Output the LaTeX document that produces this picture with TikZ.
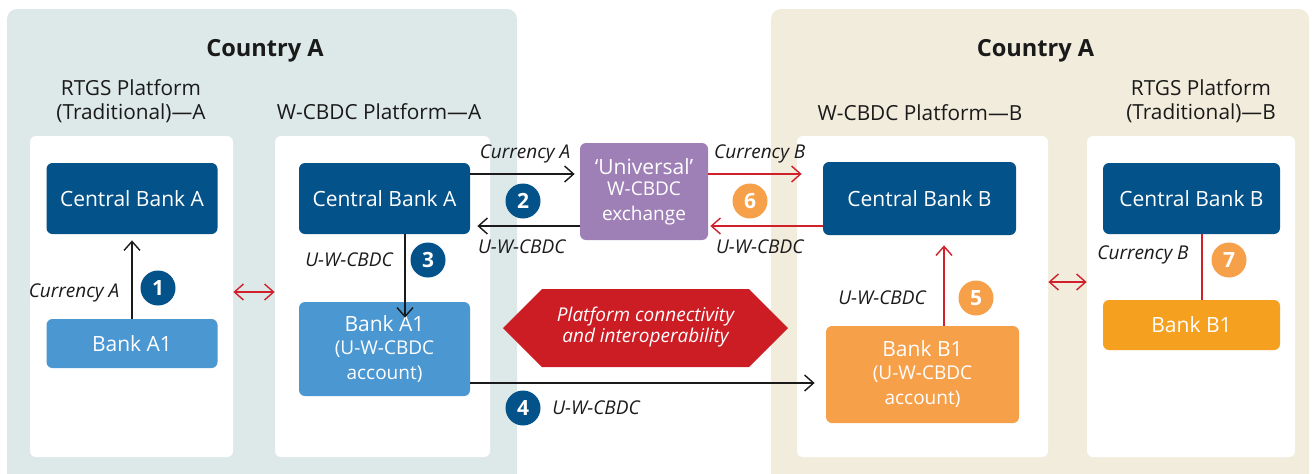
\documentclass[tikz,border=0pt]{standalone}
\usepackage{fontspec}
\setmainfont{Open Sans}
\usetikzlibrary{positioning, arrows.meta}
\definecolor{ctyA}{HTML}{DDE9E8}
\definecolor{ctyB}{HTML}{F2ECDD}
\definecolor{cbblue}{HTML}{03528A}
\definecolor{bkblue}{HTML}{4A97D2}
\definecolor{exviolet}{HTML}{9E80B6}
\definecolor{linkred}{HTML}{CC1C24}
\definecolor{flowred}{HTML}{D0202A}
\definecolor{bkorange}{HTML}{F7A04A}
\definecolor{rtorange}{HTML}{F5A01F}
\definecolor{txt}{HTML}{1A1A1A}
\tikzset{
	>={Straight Barb[length=4.5pt,width=8pt]},
	platbox/.style={fill=white, rounded corners=3pt},
	bank/.style={rounded corners=3pt, text=white, align=center, inner sep=0pt, font=\fontsize{10.5}{12.5}\selectfont},
	central/.style={bank, fill=cbblue, minimum height=35.5pt},
	num/.style={circle, text=white, minimum size=17.5pt, inner sep=0pt, font=\bfseries\fontsize{10.5}{12}\selectfont},
	lbl/.style={text=txt, font=\itshape\fontsize{9.5}{11}\selectfont},
	plat/.style={text=txt, align=center, font=\fontsize{10.4}{12.2}\selectfont},
	flow/.style={->, line width=0.7pt, draw=txt},
	redflow/.style={->, line width=0.7pt, draw=flowred},
}
\newcommand{\subline}{\fontsize{9.5}{10.5}\selectfont}

\begin{document}
\begin{tikzpicture}[x=0.5pt, y=-0.5pt]
		\useasboundingbox (0,0) rectangle (1312,473);
		\fill[ctyA, rounded corners=5pt] (7,9) rectangle (517,500);
		\fill[ctyB, rounded corners=5pt] (771,9) rectangle (1309,500);
		\node[text=txt, font=\bfseries\fontsize{11.8}{14}\selectfont] (titleA) at (265,51) {Country A};
		\node[text=txt, font=\bfseries\fontsize{11.8}{14}\selectfont] (titleB) at (1035.5,51) {Country A};
		% platforms
		\node[platbox, minimum width=101.5pt, minimum height=160.5pt] (rtgsA) at (131.5,296.5) {};
		\node[platbox, minimum width=107.5pt, minimum height=160.5pt] (wcbdcA) at (382.5,296.5) {};
		\node[platbox, minimum width=125.5pt, minimum height=160.5pt] (wcbdcB) at (922.5,296.5) {};
		\node[platbox, minimum width=104pt, minimum height=160.5pt] (rtgsB) at (1191,296.5) {};
		\node[plat] at (131,101) {RTGS Platform\\(Traditional)—A};
		\node[plat] at (379,112) {W-CBDC Platform—A};
		\node[plat] at (920,113) {W-CBDC Platform—B};
		\node[plat] at (1201,101) {RTGS Platform\\(Traditional)—B};
		% banks
		\node[central, minimum width=85.5pt] (cbA) at (132,198.5) {Central Bank A};
		\node[bank, fill=bkblue, minimum width=85.5pt, minimum height=24.5pt] (bankA) at (132,343.5) {Bank A1};
		\node[central, minimum width=85.5pt] (cbAw) at (384.5,198.5) {Central Bank A};
		\node[bank, fill=bkblue, minimum width=85.5pt, minimum height=47pt] (bankAw) at (384.5,349) {Bank A1\\[-1pt]\subline (U-W-CBDC\\\subline account)};
		\node[bank, fill=exviolet, minimum width=64pt, minimum height=48.5pt] (uni) at (644,191.5) {‘Universal’\\[-2pt]\subline W-CBDC\\\subline exchange};
		\node[central, minimum width=96.5pt, minimum height=36.5pt] (cbBw) at (919.5,198.5) {Central Bank B};
		\node[bank, fill=bkorange, minimum width=96.5pt, minimum height=48.5pt] (bankBw) at (922.5,374.5) {Bank B1\\[-1pt]\subline (U-W-CBDC\\\subline account)};
		\node[central, minimum width=88.5pt] (cbB) at (1191.5,198.5) {Central Bank B};
		\node[bank, fill=rtorange, minimum width=88.5pt, minimum height=25pt] (bankB) at (1191.5,325) {Bank B1};
		% connectivity
		\fill[linkred] (503,328) -- (542,289) -- (749,289) -- (788,328) -- (749,367) -- (542,367) -- cycle;
		\node[text=white, align=center, font=\itshape\fontsize{9.5}{10.5}\selectfont] (link) at (645.5,327) {Platform connectivity\\and interoperability};
		\draw[<->, line width=0.7pt, draw=flowred] ([yshift=2.25pt]rtgsA.east) -- ([yshift=2.25pt]wcbdcA.west);
		\draw[<->, line width=0.7pt, draw=flowred] ([yshift=7.25pt]wcbdcB.east) -- ([yshift=7.25pt]rtgsB.west);
		% flows
		\coordinate (s2a) at ([yshift=12.25pt]cbAw.east);
		\coordinate (s2b) at ([yshift=-17.25pt]uni.west);
		\coordinate (s3) at ([xshift=10.25pt]cbAw.south);
		\coordinate (s4) at ([yshift=-17pt]bankAw.east);
		\coordinate (s5) at ([xshift=10.75pt]bankBw.north);
		\coordinate (s6a) at ([yshift=8.75pt]uni.east);
		\coordinate (s6b) at ([yshift=-13.75pt]cbBw.west);
		\coordinate (s7) at ([xshift=5.25pt]cbB.south);
		\draw[flow, shorten >=3pt] (bankA) -- (cbA);
		\draw[flow, shorten >=2.5pt] (s2a) -- (s2a -| uni.west) node[lbl, midway, above=2pt] {Currency A};
		\draw[flow, shorten >=3.5pt] (s2b) -- (s2b -| cbAw.east) node[lbl, pos=0.53, below=3pt] {U-W-CBDC};
		\draw[flow, shorten >=-8pt] (s3) -- (s3 |- bankAw.north);
		\draw[flow, shorten >=5.5pt] (s4) -- (s4 -| bankBw.west);
		\draw[redflow, shorten >=5pt] (s5) -- (s5 |- cbBw.south);
		\draw[redflow, shorten >=10.5pt] (s6a) -- (s6a -| cbBw.west) node[lbl, pos=0.45, above=2pt] {Currency B};
		\draw[redflow, shorten >=1pt] (s6b) -- (s6b -| uni.east) node[lbl, pos=0.55, below=3pt] {U-W-CBDC};
		\draw[line width=0.7pt, draw=flowred] (s7) -- (s7 |- bankB.north);
		% steps
		\node[lbl] at (74,293) {Currency A};
		\node[lbl] at (349,260) {U-W-CBDC};
		\node[lbl] at (596,408) {U-W-CBDC};
		\node[lbl] at (882,298) {U-W-CBDC};
		\node[lbl] at (1143,255) {Currency B};
		\node[num, fill=cbblue] (n1) at (158,288) {1};
		\node[num, fill=cbblue] (n2) at (523,201) {2};
		\node[num, fill=cbblue] (n3) at (428,260) {3};
		\node[num, fill=cbblue] (n4) at (523,408) {4};
		\node[num, fill=bkorange] (n5) at (976,298) {5};
		\node[num, fill=bkorange] (n6) at (750,201) {6};
		\node[num, fill=bkorange] (n7) at (1229,260) {7};
	\end{tikzpicture}
\end{document}
